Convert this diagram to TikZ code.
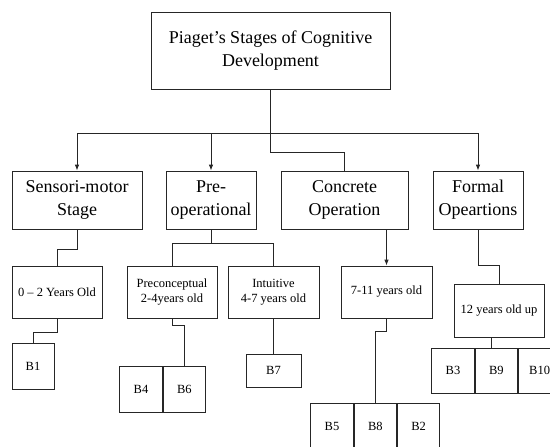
\documentclass[tikz,border=0pt]{standalone}
\usepackage{fontspec}
\setmainfont{Liberation Serif}
\usepackage{tikz}
\usetikzlibrary{positioning,arrows.meta}

\begin{document}
\begin{tikzpicture}[x=1pt,y=-1pt,
box/.style={
rectangle,
draw=black!85,
line width=0.8pt,
inner sep=0pt,
align=center
},
stage/.style={box,minimum height=58pt,font=\fontsize{18}{23}\selectfont},
age/.style={box,minimum width=90pt,minimum height=52pt,font=\fontsize{12.5}{15}\selectfont},
leaf/.style={box,minimum width=42.5pt,minimum height=46pt,font=\fontsize{12.5}{15}\selectfont},
link/.style={draw=black!85,line width=0.8pt},
to/.style={link,-{Latex[length=6pt,width=4.5pt]}},
]
\useasboundingbox (0,0) rectangle (550,447);
\node (root) [box,minimum width=239pt,minimum height=77pt,font=\fontsize{18}{23}\selectfont] at (270.5,50.5) {Piaget’s Stages of Cognitive\\Development};
\coordinate (bus) at (0,133);
\coordinate (jog) at (0,152);
\node (sens) [stage,minimum width=130pt] at (77,200) {Sensori-motor\\Stage};
\node (pre) [stage,minimum width=90pt] at (211,200) {Pre-\\operational};
\node (conc) [stage,minimum width=127pt] at (344.5,200) {Concrete\\Operation};
\node (form) [stage,minimum width=90pt] at (478,200) {Formal\\Opeartions};
\node (age02) [age] at (57,292) {0 -- 2 Years Old};
\node (precon) [age] at (172,292) {Preconceptual\\2-4years old};
\node (intu) [age,minimum width=91pt] at (273.5,292) {Intuitive\\4-7 years old};
\node (age711) [age,minimum width=91pt] at (386.5,292) {7-11 years old};
\node (age12) [age,minimum height=53pt] at (499,310.5) {12 years old up};
\node (b1) [leaf,minimum width=42pt] at (33,366) {B1};
\node (b4) [leaf] at (141,389) {B4};
\node (b6) [leaf,right=0pt of b4] {B6};
\node (b7) [leaf,minimum width=55pt,minimum height=33pt] at (273.5,370.5) {B7};
\node (b5) [leaf] at (332,426) {B5};
\node (b8) [leaf,right=0pt of b5] {B8};
\node (b2) [leaf,right=0pt of b8] {B2};
\node (b3) [leaf,minimum height=45pt] at (453,370.5) {B3};
\node (b9) [leaf,minimum height=45pt,right=0pt of b3] {B9};
\node (b10) [leaf,minimum height=45pt,right=0pt of b9] {B10};
\draw[link] (root.south) -- (root.south |- jog) -| (conc.north);
\draw[to] (root.south |- bus) -| (sens.north);
\draw[to] (root.south |- bus) -| (form.north);
\draw[to] (pre.north |- bus) -- (pre.north);
\draw[link] (sens.south) -- ++(0,20) -| (age02.north);
\draw[link] (pre.south) -- ++(0,14) coordinate (fork);
\draw[link] (fork) -| (precon.north);
\draw[link] (fork) -| (intu.north);
\draw[to] (age711.north |- conc.south) -- (age711.north);
\draw[link] (form.south) -- ++(0,36) -| (age12.north);
\draw[link] (age02.south) -- ++(0,14) -| (b1.north);
\draw[link] (precon.south) -- ++(0,7) -| (b6.north);
\draw[link] (intu.south) -- (b7.north);
\draw[link] (age711.south) -- ++(0,13) -| (b8.north);
\draw[link] ([xshift=-8pt]age12.south) -- ([xshift=-8pt]age12.south |- b9.north);
\end{tikzpicture}
\end{document}
